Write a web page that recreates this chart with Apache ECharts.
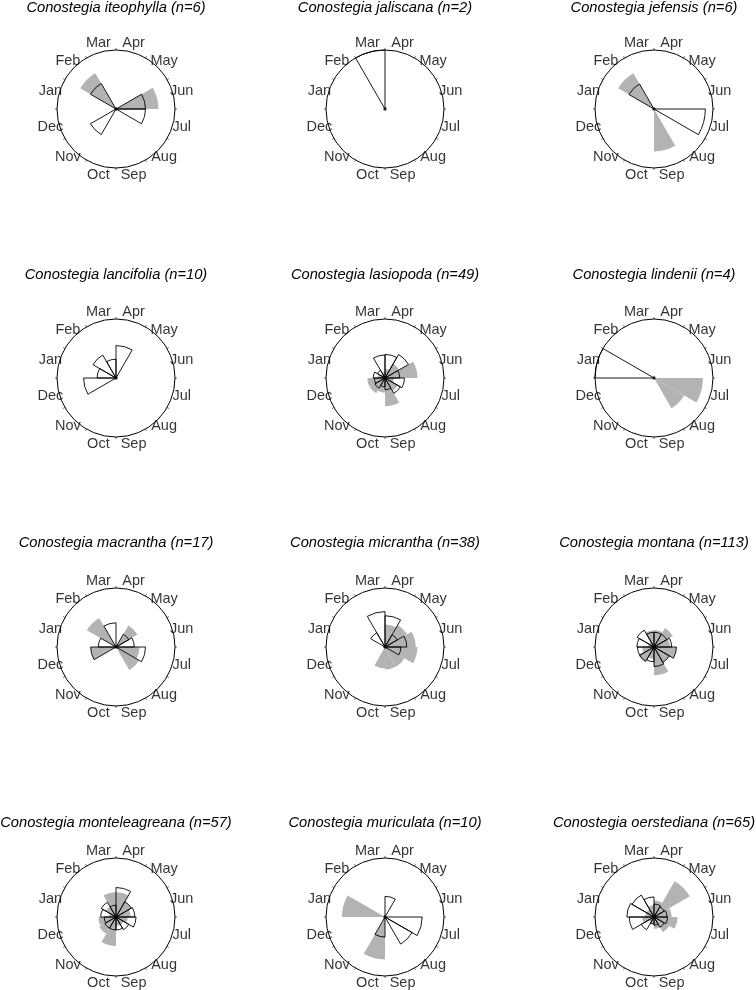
<!DOCTYPE html>
<html>
<head>
  <meta charset="utf-8">
  <title>Conostegia phenology rose diagrams</title>
  <script src="https://cdn.jsdelivr.net/npm/echarts@6.0.0/dist/echarts.min.js"></script>
  <style>
    html, body { margin: 0; padding: 0; background: #fff; }
    #chart { width: 756px; height: 990px; }
  </style>
</head>
<body>
<div id="chart"></div>
<script>
var months = ['Jan', 'Feb', 'Mar', 'Apr', 'May', 'Jun', 'Jul', 'Aug', 'Sep', 'Oct', 'Nov', 'Dec'];

var titles = [
    'Conostegia iteophylla (n=6)', 'Conostegia jaliscana (n=2)', 'Conostegia jefensis (n=6)',
    'Conostegia lancifolia (n=10)', 'Conostegia lasiopoda (n=49)', 'Conostegia lindenii (n=4)',
    'Conostegia macrantha (n=17)', 'Conostegia micrantha (n=38)', 'Conostegia montana (n=113)',
    'Conostegia monteleagreana (n=57)', 'Conostegia muriculata (n=10)', 'Conostegia oerstediana (n=65)'
];

// bar lengths, as a fraction of the circle radius (Jan..Dec)
// "white" = open outlined wedges, "grey" = filled grey wedges
var whiteIteophylla  = [0, 0.5, 0, 0, 0, 0.5, 0.5, 0, 0, 0, 0.5, 0];
var greyIteophylla   = [0, 0.7, 0, 0, 0, 0.72, 0, 0, 0, 0, 0, 0];
var whiteJaliscana   = [0, 0, 1, 0, 0, 0, 0, 0, 0, 0, 0, 0];
var greyJaliscana    = [0, 0, 0, 0, 0, 0, 0, 0, 0, 0, 0, 0];
var whiteJefensis    = [0, 0.49, 0, 0, 0, 0, 0.87, 0, 0, 0, 0, 0];
var greyJefensis     = [0, 0.7, 0, 0, 0, 0, 0, 0, 0.72, 0, 0, 0];
var whiteLancifolia  = [0.32, 0.45, 0.32, 0.55, 0, 0, 0, 0, 0, 0, 0, 0.55];
var greyLancifolia   = [0, 0, 0, 0, 0, 0, 0, 0, 0, 0, 0, 0];
var whiteLasiopoda   = [0.2, 0.15, 0.39, 0.4, 0.46, 0.25, 0.33, 0.3, 0.2, 0.15, 0.2, 0.18];
var greyLasiopoda    = [0.12, 0.08, 0.1, 0.15, 0.28, 0.55, 0.15, 0.25, 0.48, 0.25, 0.3, 0.3];
var whiteLindenii    = [1, 0, 0, 0, 0, 0, 0, 0, 0, 0, 0, 0];
var greyLindenii     = [0, 0, 0, 0, 0, 0, 0.83, 0.59, 0, 0, 0, 0];
var whiteMacrantha   = [0.3, 0, 0.41, 0, 0.25, 0.31, 0.5, 0, 0, 0, 0, 0.43];
var greyMacrantha    = [0, 0.57, 0, 0, 0.42, 0, 0.4, 0.45, 0, 0, 0, 0.43];
var whiteMicrantha   = [0, 0.28, 0.6, 0.53, 0.24, 0.37, 0.27, 0, 0, 0, 0, 0];
var greyMicrantha    = [0, 0, 0, 0.38, 0.43, 0.52, 0.55, 0.38, 0.38, 0.36, 0, 0];
var whiteMontana     = [0.29, 0.33, 0.25, 0.25, 0.25, 0.3, 0.38, 0.3, 0.33, 0.25, 0.28, 0.28];
var greyMontana      = [0.1, 0.1, 0.28, 0.29, 0.37, 0.27, 0.38, 0.3, 0.48, 0.2, 0.3, 0.2];
var whiteMonteleagr  = [0.26, 0.29, 0.2, 0.5, 0.3, 0.32, 0.34, 0.25, 0.22, 0.22, 0.22, 0.2];
var greyMonteleagr   = [0.12, 0.2, 0.42, 0.42, 0.3, 0.25, 0.2, 0.15, 0.15, 0.49, 0.33, 0.3];
var whiteMuriculata  = [0, 0, 0, 0.35, 0, 0, 0.63, 0.53, 0, 0.34, 0, 0];
var greyMuriculata   = [0.73, 0, 0, 0, 0, 0, 0, 0, 0, 0.72, 0, 0];
var whiteOerstediana = [0.46, 0.43, 0.34, 0.22, 0.2, 0.22, 0.23, 0.2, 0.14, 0.12, 0.25, 0.42];
var greyOerstediana  = [0.15, 0.15, 0.2, 0.28, 0.7, 0.3, 0.4, 0.3, 0.2, 0.12, 0.1, 0.2];

var whiteBars = [whiteIteophylla, whiteJaliscana, whiteJefensis, whiteLancifolia, whiteLasiopoda, whiteLindenii,
                 whiteMacrantha, whiteMicrantha, whiteMontana, whiteMonteleagr, whiteMuriculata, whiteOerstediana];
var greyBars = [greyIteophylla, greyJaliscana, greyJefensis, greyLancifolia, greyLasiopoda, greyLindenii,
                greyMacrantha, greyMicrantha, greyMontana, greyMonteleagr, greyMuriculata, greyOerstediana];

// panel layout (px)
var colX = [116, 385, 654];
var rowY = [109, 378, 647, 917];
var titleTop = [0, 267, 535, 815];
var R = 59;
var LABEL_R = 68 / 59;   // month names sit just outside the circle
var FONT = '"Liberation Sans", Arial, sans-serif';

function noZero(arr) {
    return arr.map(function (v) { return v > 0 ? v : '-'; });
}

var option = {
    animation: false,
    backgroundColor: '#fff',
    title: [],
    polar: [],
    angleAxis: [],
    radiusAxis: [],
    series: []
};

for (var i = 0; i < titles.length; i++) {
    var cx = colX[i % 3];
    var row = Math.floor(i / 3);
    var cy = rowY[row];

    option.title.push({
        text: titles[i],
        left: cx,
        top: titleTop[row],
        textAlign: 'center',
        padding: 0,
        textStyle: {
            fontFamily: FONT,
            fontStyle: 'italic',
            fontWeight: 'normal',
            fontSize: 14.7,
            color: '#000'
        }
    });

    option.polar.push({ center: [cx, cy], radius: R });

    option.angleAxis.push({
        polarIndex: i,
        type: 'category',
        data: months,
        startAngle: 180,
        clockwise: true,
        boundaryGap: true,
        axisLine: { lineStyle: { color: '#000', width: 1 } },
        axisTick: { show: true, length: 2, lineStyle: { color: '#444', width: 0.8 } },
        axisLabel: { show: false },
        splitLine: { show: false }
    });

    option.radiusAxis.push({
        polarIndex: i,
        type: 'value',
        min: 0,
        max: 1,
        axisLine: { show: false },
        axisTick: { show: false },
        axisLabel: { show: false },
        splitLine: { show: false }
    });

    option.series.push({
        type: 'bar',
        coordinateSystem: 'polar',
        polarIndex: i,
        data: noZero(greyBars[i]),
        barGap: '-100%',
        barCategoryGap: '0%',
        silent: true,
        itemStyle: { color: '#b3b3b3', borderWidth: 0 },
        z: 2
    });

    option.series.push({
        type: 'bar',
        coordinateSystem: 'polar',
        polarIndex: i,
        data: noZero(whiteBars[i]),
        barGap: '-100%',
        barCategoryGap: '0%',
        silent: true,
        itemStyle: { color: 'rgba(0,0,0,0)', borderColor: '#000', borderWidth: 0.9 },
        z: 3
    });

    // month names, centred on a ring just outside the circle
    option.series.push({
        type: 'scatter',
        coordinateSystem: 'polar',
        polarIndex: i,
        data: months.map(function (m) { return [LABEL_R, m]; }),
        symbolSize: 1,
        clip: false,
        silent: true,
        itemStyle: { color: 'rgba(0,0,0,0)' },
        label: {
            show: true,
            position: 'inside',
            formatter: function (p) { return months[p.dataIndex]; },
            color: '#000',
            fontFamily: FONT,
            fontSize: 14.5
        },
        z: 4
    });

    // centre point
    option.series.push({
        type: 'scatter',
        coordinateSystem: 'polar',
        polarIndex: i,
        data: [[0, 'Jan']],
        symbolSize: 3.5,
        silent: true,
        itemStyle: { color: '#000' },
        z: 5
    });
}

var myChart = echarts.init(document.getElementById('chart'));
myChart.setOption(option);
</script>
</body>
</html>
